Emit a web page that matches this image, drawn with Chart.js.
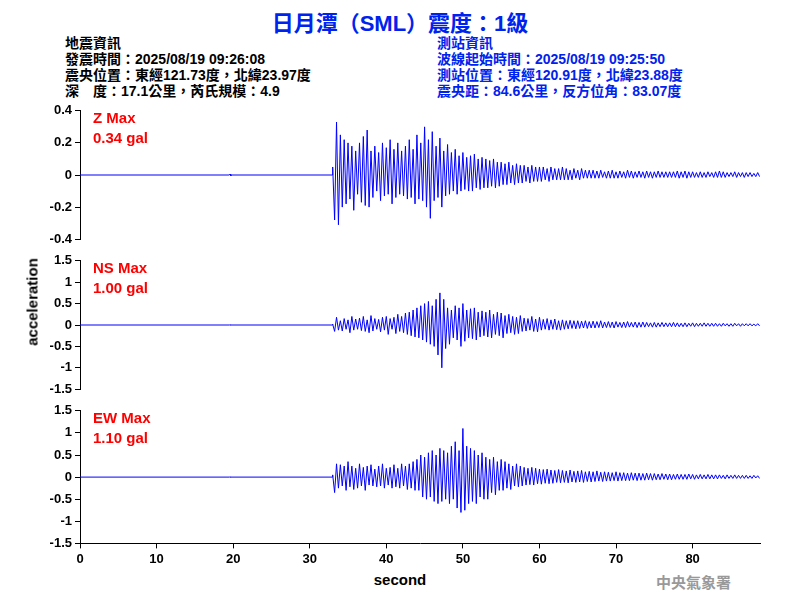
<!DOCTYPE html>
<html><head><meta charset="utf-8">
<script src="https://cdn.jsdelivr.net/npm/chart.js@4"></script>
<style>
body{margin:0;width:800px;height:600px;background:#fff;position:relative;font-family:Arial,"Liberation Sans",sans-serif;overflow:hidden}
.t{position:absolute;white-space:nowrap}
.info{font-family:"Liberation Sans","Noto Sans CJK TC",sans-serif;font-weight:bold;font-size:14px;line-height:16px}
.box{position:absolute;left:40px;width:723px}
.lab{position:absolute;left:93px;color:#f00;font-size:15px;line-height:20px;font-weight:bold}
</style></head><body>
<div class="t" style="left:0;width:800px;top:5px;text-align:center;color:#0022ee;font-weight:bold;font-size:22px;font-family:'Liberation Sans','Noto Sans CJK TC',sans-serif">日月潭（SML）震度：1級</div>
<div class="t info" style="left:65px;top:35px">地震資訊<br>發震時間：2025/08/19 09:26:08<br>震央位置：東經121.73度，北緯23.97度<br>深　度：17.1公里，芮氏規模：4.9</div>
<div class="t info" style="left:437px;top:35px;color:#0022ee">測站資訊<br>波線起始時間：2025/08/19 09:25:50<br>測站位置：東經120.91度，北緯23.88度<br>震央距：84.6公里，反方位角：83.07度</div>
<div class="box" style="top:100px;height:150px"><canvas id="cz"></canvas></div>
<div class="box" style="top:250px;height:150px"><canvas id="cn"></canvas></div>
<div class="box" style="top:400px;height:170px"><canvas id="ce"></canvas></div>
<div class="lab" style="top:108px">Z Max<br>0.34 gal</div>
<div class="lab" style="top:258px">NS Max<br>1.00 gal</div>
<div class="lab" style="top:408px">EW Max<br>1.10 gal</div>
<div class="t" style="left:32px;top:302px;transform:translate(-50%,-50%) rotate(-90deg);font-size:15px;font-weight:bold">acceleration</div>
<div class="t" style="left:0;width:800px;top:571px;text-align:center;font-size:15px;font-weight:bold">second</div>
<div class="t" style="left:656px;top:571px;font-size:15px;color:#999;font-weight:bold;font-family:'Noto Sans CJK TC',serif">中央氣象署</div>
<script>
const startTime = 33.0;
const step = 0.25;
const preEvent = [[0,0],[19.5,0],[19.6,0.006],[19.7,-0.005],[19.8,0],[33,0]];
const zValues = [
0.05,-0.28,0.33,-0.31,0.25,-0.2,0.22,-0.18,
0.2,-0.15,0.18,-0.22,0.15,-0.12,0.2,-0.17,
0.24,-0.19,0.28,-0.2,0.15,-0.14,0.18,-0.1,
0.14,-0.16,0.2,-0.13,0.17,-0.12,0.22,-0.18,
0.16,-0.14,0.2,-0.12,0.15,-0.13,0.18,-0.15,
0.22,-0.14,0.16,-0.18,0.25,-0.15,0.2,-0.16,
0.3,-0.2,0.22,-0.27,0.27,-0.16,0.18,-0.14,
0.23,-0.2,0.15,-0.13,0.19,-0.12,0.14,-0.1,
0.16,-0.12,0.12,-0.1,0.14,-0.09,0.11,-0.1,
0.12,-0.1,0.13,-0.08,0.1,-0.09,0.11,-0.08,
0.1,-0.08,0.09,-0.07,0.1,-0.08,0.08,-0.07,
0.08,-0.06,0.07,-0.06,0.08,-0.05,0.06,-0.06,
0.07,-0.05,0.06,-0.05,0.06,-0.04,0.05,-0.05,
0.06,-0.04,0.05,-0.04,0.05,-0.04,0.05,-0.03,
0.04,-0.04,0.05,-0.03,0.04,-0.03,0.04,-0.03,
0.05,-0.03,0.04,-0.03,0.03,-0.03,0.04,-0.02,
0.03,-0.03,0.04,-0.02,0.03,-0.02,0.03,-0.02,
0.03,-0.02,0.025,-0.02,0.03,-0.015,0.02,-0.02,
0.025,-0.02,0.03,-0.02,0.02,-0.02,0.025,-0.015,
0.02,-0.02,0.03,-0.015,0.025,-0.02,0.02,-0.015,
0.025,-0.015,0.02,-0.02,0.025,-0.015,0.02,-0.02,
0.02,-0.015,0.025,-0.015,0.02,-0.015,0.02,-0.015,
0.02,-0.015,0.02,-0.015,0.025,-0.02,0.02,-0.015,
0.025,-0.02,0.02,-0.015,0.02,-0.015,0.015,-0.015,
0.02,-0.015,0.015,-0.015,0.02,-0.01,0.015,-0.015,
0.02,-0.015,0.025,-0.015,0.02,-0.015,0.015,-0.01,
0.015,-0.01,0.02,-0.015,0.015,-0.01,0.015,-0.015,
0.015,-0.01,0.015,-0.01,0.01,-0.01,0.015,-0.01];
const nsValues = [
0.02,-0.15,0.18,-0.12,0.1,-0.14,0.15,-0.1,
0.12,-0.18,0.2,-0.12,0.14,-0.1,0.16,-0.13,
0.2,-0.15,0.12,-0.18,0.22,-0.14,0.15,-0.1,
0.13,-0.16,0.18,-0.12,0.2,-0.22,0.15,-0.1,
0.18,-0.2,0.25,-0.15,0.2,-0.18,0.28,-0.22,
0.3,-0.25,0.35,-0.28,0.4,-0.3,0.45,-0.35,
0.5,-0.4,0.55,-0.45,0.45,-0.5,0.6,-0.7,
0.75,-1.0,0.6,-0.55,0.4,-0.45,0.35,-0.3,
0.45,-0.35,0.4,-0.5,0.5,-0.38,0.35,-0.3,
0.38,-0.32,0.4,-0.35,0.3,-0.28,0.33,-0.25,
0.3,-0.28,0.35,-0.3,0.25,-0.22,0.3,-0.25,
0.28,-0.3,0.22,-0.2,0.25,-0.18,0.2,-0.22,
0.18,-0.2,0.22,-0.15,0.16,-0.14,0.15,-0.12,
0.2,-0.15,0.14,-0.16,0.18,-0.12,0.13,-0.1,
0.15,-0.12,0.12,-0.1,0.14,-0.11,0.1,-0.12,
0.12,-0.1,0.1,-0.09,0.11,-0.08,0.1,-0.09,
0.1,-0.08,0.09,-0.07,0.1,-0.08,0.08,-0.07,
0.09,-0.07,0.08,-0.06,0.1,-0.07,0.07,-0.06,
0.08,-0.06,0.07,-0.07,0.08,-0.05,0.06,-0.06,
0.07,-0.06,0.08,-0.05,0.06,-0.05,0.07,-0.06,
0.06,-0.05,0.07,-0.05,0.06,-0.04,0.05,-0.05,
0.06,-0.05,0.05,-0.04,0.06,-0.04,0.05,-0.04,
0.05,-0.04,0.06,-0.04,0.05,-0.04,0.04,-0.04,
0.05,-0.04,0.04,-0.03,0.05,-0.04,0.04,-0.03,
0.04,-0.03,0.05,-0.03,0.04,-0.03,0.04,-0.03,
0.04,-0.03,0.03,-0.03,0.04,-0.02,0.03,-0.03,
0.03,-0.03,0.04,-0.02,0.03,-0.03,0.03,-0.02,
0.03,-0.02,0.03,-0.02,0.02,-0.02,0.03,-0.02];
const ewValues = [
0.05,-0.35,0.3,-0.25,0.28,-0.2,0.25,-0.3,
0.35,-0.22,0.25,-0.28,0.2,-0.25,0.3,-0.2,
0.22,-0.3,0.25,-0.18,0.28,-0.2,0.18,-0.22,
0.25,-0.2,0.3,-0.25,0.2,-0.18,0.22,-0.25,
0.28,-0.22,0.2,-0.25,0.3,-0.2,0.25,-0.28,
0.3,-0.25,0.35,-0.3,0.4,-0.3,0.5,-0.45,
0.45,-0.5,0.55,-0.45,0.6,-0.55,0.5,-0.6,
0.65,-0.55,0.6,-0.5,0.55,-0.6,0.7,-0.5,
0.8,-0.7,0.6,-0.8,1.1,-0.75,0.7,-0.6,
0.65,-0.55,0.6,-0.6,0.5,-0.45,0.55,-0.5,
0.45,-0.5,0.4,-0.35,0.45,-0.4,0.35,-0.3,
0.4,-0.3,0.35,-0.25,0.3,-0.28,0.25,-0.2,
0.3,-0.22,0.25,-0.2,0.22,-0.18,0.2,-0.17,
0.22,-0.18,0.2,-0.15,0.18,-0.16,0.17,-0.14,
0.18,-0.15,0.16,-0.14,0.15,-0.12,0.17,-0.13,
0.15,-0.12,0.14,-0.13,0.16,-0.11,0.13,-0.12,
0.14,-0.11,0.15,-0.12,0.12,-0.1,0.13,-0.11,
0.12,-0.1,0.14,-0.09,0.11,-0.1,0.12,-0.09,
0.11,-0.09,0.1,-0.08,0.12,-0.09,0.1,-0.08,
0.1,-0.08,0.09,-0.08,0.1,-0.07,0.09,-0.08,
0.09,-0.07,0.08,-0.07,0.09,-0.06,0.08,-0.07,
0.08,-0.06,0.07,-0.06,0.08,-0.05,0.07,-0.06,
0.07,-0.06,0.06,-0.05,0.07,-0.05,0.06,-0.05,
0.06,-0.05,0.07,-0.04,0.06,-0.05,0.05,-0.04,
0.06,-0.04,0.05,-0.04,0.06,-0.04,0.05,-0.04,
0.05,-0.04,0.05,-0.03,0.04,-0.04,0.05,-0.03,
0.04,-0.03,0.05,-0.03,0.04,-0.03,0.04,-0.03,
0.04,-0.03,0.03,-0.03,0.04,-0.02,0.03,-0.03];
const xTicks = [0,10,20,30,40,50,60,70,80];

function series(values){
  const pts = preEvent.map(p => ({x:p[0], y:p[1]}));
  values.forEach((v,i) => pts.push({x:startTime + i*step, y:v}));
  return pts;
}

function trace(id, values, lim, stepY, showX){
  new Chart(document.getElementById(id), {
    type:'line',
    data:{datasets:[{data:series(values), borderColor:'#0000ff', borderWidth:1, pointRadius:0, tension:0}]},
    options:{
      responsive:true, maintainAspectRatio:false, animation:false,
      layout:{padding:{top:8, bottom:showX?0:8, right:3}},
      plugins:{legend:{display:false}, tooltip:{enabled:false}},
      scales:{
        x:{type:'linear', min:0, max:88.8, display:showX,
           afterBuildTicks:a => {a.ticks = xTicks.map(v => ({value:v}));},
           grid:{drawOnChartArea:false, tickLength:5, color:'#000'},
           border:{color:'#000'},
           ticks:{color:'#000', font:{size:13, weight:'bold', family:'Arial'}}},
        y:{min:-lim, max:lim,
           afterFit:a => {a.width = 40;},
           grid:{drawOnChartArea:false, tickLength:5, color:'#000'},
           border:{color:'#000'},
           ticks:{stepSize:stepY, color:'#000', font:{size:13, weight:'bold', family:'Arial'},
                  callback:v => String(Math.round(v*10)/10)}}
      }
    }
  });
}
trace('cz', zValues, 0.4, 0.2, false);
trace('cn', nsValues, 1.5, 0.5, false);
trace('ce', ewValues, 1.5, 0.5, true);
</script>
</body></html>
